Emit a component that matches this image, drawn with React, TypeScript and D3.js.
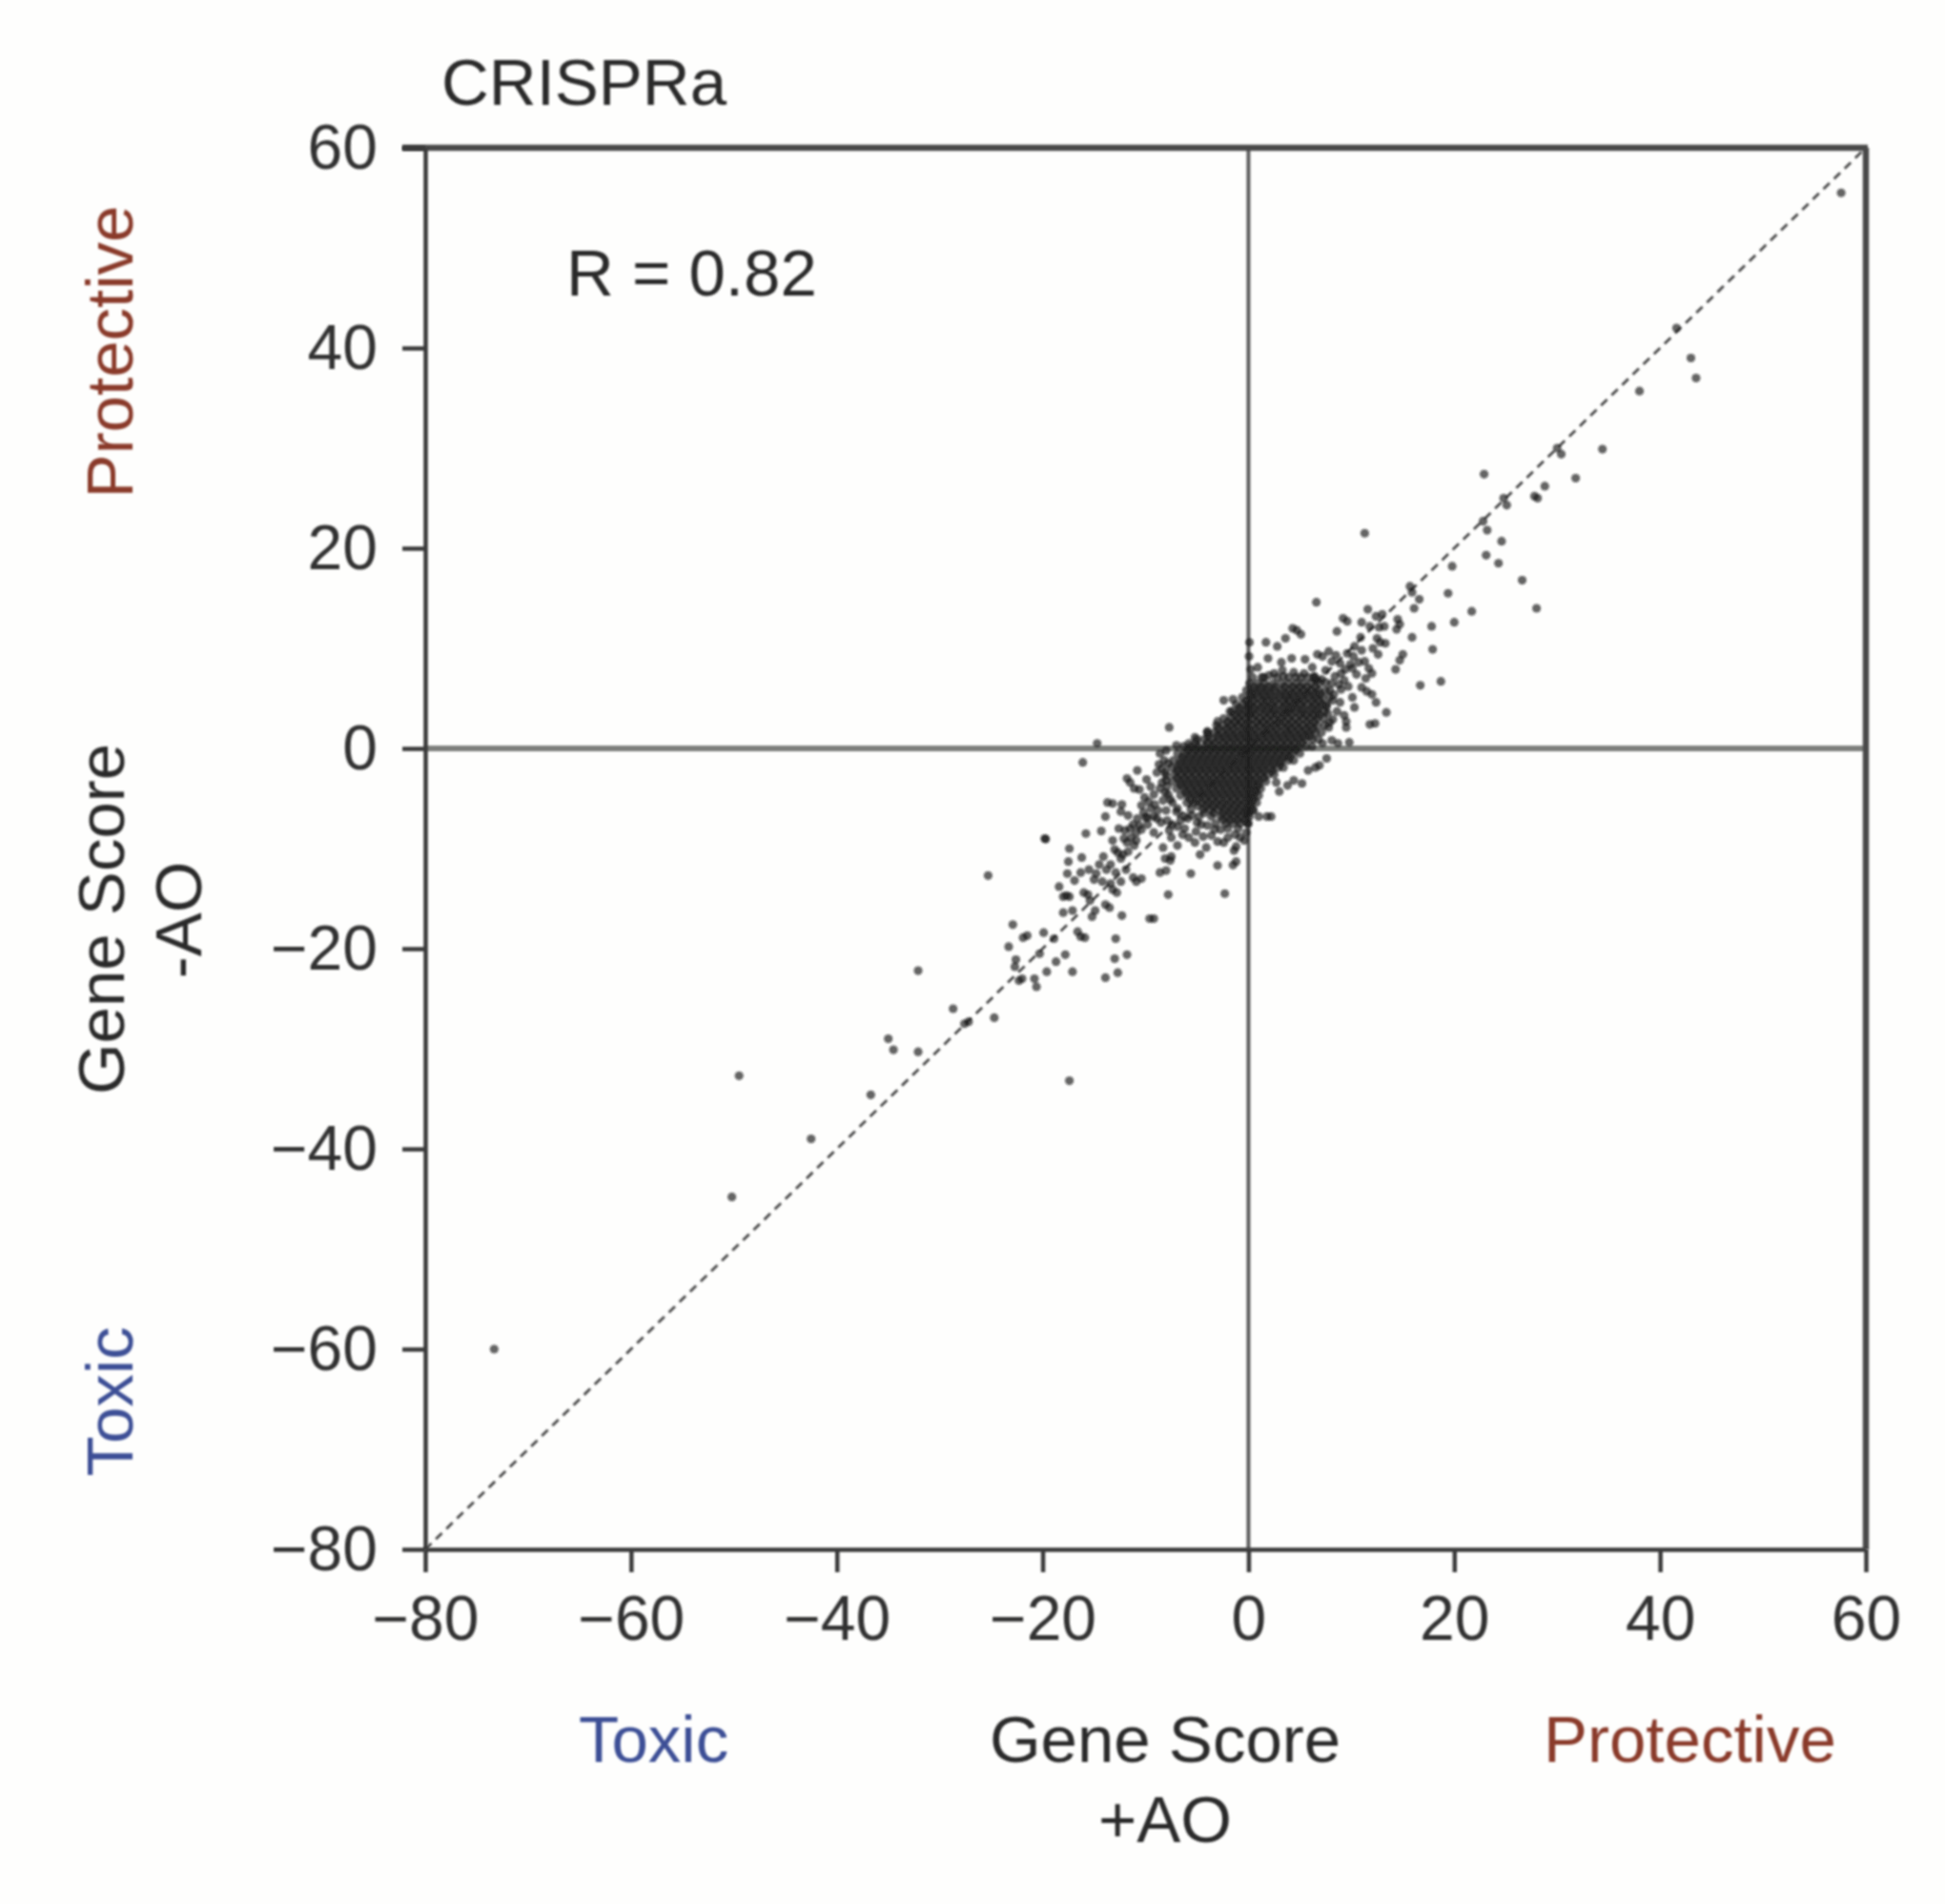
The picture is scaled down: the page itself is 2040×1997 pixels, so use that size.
import { useEffect, useRef } from 'react';
import { select, scaleLinear, axisLeft, axisBottom } from 'd3';

const xTicks = [-80, -60, -40, -20, 0, 20, 40, 60];
const yTicks = [-80, -60, -40, -20, 0, 20, 40, 60];

// single genes far from the main cloud
const farHigh = [
  [57.6, 55.5], [41.6, 42], [43, 39], [43.5, 37], [38, 35.7], [34.4, 29.9], [30.4, 29.4], [30, 30], [31.8, 27],
  [22.9, 27.4], [28.8, 26.2], [27.8, 25.2], [28.1, 25], [25.1, 24.3], [24.8, 25], [22.8, 22.7], [23.2, 21.8],
  [24.6, 20.7], [23.1, 19.3], [24.3, 18.5], [26.6, 16.8], [28, 14], [19.8, 18.2], [11.3, 21.5],
];
const farLow = [
  [-73.3, -60], [-50.2, -44.8], [-49.5, -32.7], [-17.4, -33.2], [-42.5, -39], [-36.7, -34.6], [-35, -29],
  [-34.5, -30.1], [-32.1, -30.3], [-32.1, -22.2], [-28.7, -26], [-27.6, -27.5], [-27.2, -27.3], [-24.7, -26.9],
  [-25.3, -12.7], [-19.8, -9],
];

// upper arm, thinning out towards the diagonal
const armHigh = [
  [19.4, 15.5], [21.7, 13.7], [6.6, 14.6], [15.7, 16.2], [15.9, 15.6], [16.6, 14.9], [16.1, 14],
  [11.6, 13.9], [13, 13.4], [17.8, 12.2], [20, 12.6], [14.5, 12.9], [14.7, 12.4], [14.4, 11.9], [15.9, 11.1],
  [17.9, 9.9], [15, 9.4], [14.7, 8.8], [14.3, 7.9], [16.7, 6.3], [18.7, 6.7], [13.4, 3.6], [11.8, 2.4], [12.3, 2.5],
  [9.5, 2.7], [10.3, 4.1], [12.4, 4.6], [12, 5.4], [11.5, 5.7], [11, 6.1], [12, 7.5], [11.7, 8], [11.3, 8.7],
  [10.9, 11.1], [11.8, 12.2], [12.7, 12.1], [13.3, 10.5], [12.8, 10.6], [12.4, 13.2], [9.9, 8.4], [9, 7.5], [9, 5.9],
  [8.1, 6.5], [7.5, 7.8], [6.2, 8.1], [4.4, 7.6], [2.5, 7.5], [1.3, 7.1], [9.5, 2.1], [9.3, 3.3], [8.7, 0.5],
  [9.8, 0.6], [8.1, 0.8], [9.6, 12.7], [9.2, 13], [8.6, 11.7], [9.6, 9.5], [10.2, 9.2], [8.1, 8.7], [7.8, 9.7],
  [6.7, 9.4], [7.2, 9.2], [5.5, 8.9], [4.2, 9], [3.2, 8.6], [1.9, 9], [1.7, 10.6], [2.8, 10.2], [3.6, 11], [4.3, 12],
  [5.1, 11.4], [4.7, 11.8], [0.1, 10.6], [0.06, 9.2], [0.2, 7.9], [10.5, 7.4], [11, 9.8], [12.1, 10], [12.5, 11],
  [10.3, 10.2], [9.3, 6.8], [10.1, 5.1], [8.9, 4.6], [8.6, 3.7], [7.8, 2.1], [7.2, 0.5], [7.6, -1], [6.5, -1.9],
  [6.9, -1.7], [5.8, -2.2], [5.2, -3.5], [3.8, -3.7], [4.4, -3.2], [3, -4.3], [2.7, -3.4], [1.8, -6.8], [1, -6.8],
  [2.2, -6.8], [-7.7, 2.1], [-5.8, 0.5], [-5.2, 1.1], [-4, 1.7], [-2.4, 4.8], [-1.5, 4.9], [-1.8, 3.7], [-3, 2.7],
  [8.4, 7.2], [8.9, 8.5], [8.3, 5.4], [8.8, 6.4], [9.7, 6.2], [9.4, 7.9], [10.1, 8], [10.7, 8.6], [11.4, 7], [8.5, 9.3],
  [6.4, 7.2], [7.1, 6.9], [5.4, 7.5], [3.3, 7.8], [0.9, 8.1], [12.6, 9.4], [13.2, 12.2], [11, 12.6], [7.6, 4.2], [8.2, 2.9],
  [7.9, 5.8], [8.2, 4.8], [7.7, 3.5], [7.9, 2.6], [7.5, 6.6], [6.5, 6.9], [5.8, 7.1], [2, 7.3], [3.4, 7.2], [4.6, 7.1],
];

// lower arm between about -23 and -8
const armLow = [
  [-19.7, -9.05], [-17.4, -10], [-15.8, -8.5], [-14.3, -8.25], [-16.1, -1.4], [-14.7, 0.5], [-7.8, -14.6], [-2.3, -14.5],
  [-9.6, -17], [-9.2, -17], [-5.6, -12.5], [-4.7, -10.6], [-3, -11.7], [-1.5, -11.65], [-1.2, -11.3], [-22.9, -17.6],
  [-21.9, -18.9], [-21.5, -18.7], [-19.9, -18.4], [-18.9, -19], [-16.6, -18.3], [-15.9, -18.9], [-16.3, -18.8],
  [-12.9, -19], [-13, -21], [-11.8, -20.6], [-12.7, -22.4], [-13.9, -22.9], [-17.1, -22.3], [-19.6, -22.3],
  [-18.7, -21.3], [-17.8, -20.6], [-20.3, -20.5], [-23.3, -19.8], [-22.6, -21.1], [-22.7, -21.8], [-22.3, -23.2],
  [-22, -23], [-20.8, -23], [-20.6, -23.8], [-16.9, -13.2], [-16.3, -12.4], [-15.5, -12.1], [-14.8, -12.5],
  [-14.2, -13.3], [-13.4, -13.5], [-14.1, -10.8], [-13.4, -11.6], [-12.4, -11], [-11.8, -9.4], [-11.1, -9.7],
  [-10.4, -8.1], [-9.8, -7.6], [-8.9, -7], [-11.7, -10.3], [-12.9, -12.4], [-16.2, -10.9], [-17.5, -11.3],
  [-17.6, -12.5], [-18.4, -13.8], [-18, -14.8], [-17.4, -14.8], [-17.7, -14.7], [-18, -16.4], [-17.1, -16.2],
  [-16, -14.4], [-15.4, -15.2], [-14.9, -16.2], [-15.2, -16.8], [-13.5, -15.9], [-13.9, -15.6], [-12.3, -16.7],
  [-12.8, -14.4], [-13.2, -14.1], [-15.6, -14.6], [-11.2, -12.9], [-10.4, -13], [-10.9, -13.3], [-8.6, -12.4],
  [-8, -12.2], [-8.3, -9.9], [-7.5, -10.8], [-8.1, -11], [-7.6, -11.2], [-12.3, -5.6], [-13.7, -5.4], [-13.2, -5.5],
  [-13.9, -6.8], [-12.4, -6.3], [-11.8, -3], [-11.5, -3.4], [-10.8, -2.2], [-11.1, -4], [-10.6, -4.1], [-10.4, -5.7],
  [-11.2, -7.6], [-9.2, -6.8], [-13.2, -9.2], [-12.1, -9], [-11.4, -8.9], [-10.8, -7], [-9.5, -6], [-8.3, -5.2],
  [-8.6, -4], [-8, -6.2], [-6.9, -7.8], [-5.8, -8.9], [-6.4, -8.6], [-5.2, -9.4], [-3.6, -8.7], [-2.4, -9.4],
  [-1.2, -9.8], [-1.3, -8.6], [-2.7, -8.1], [-4.6, -7.6], [-7, -6.3], [-5.5, -6.7], [-8, -2.7], [-8.6, -0.5], [-8, -0.2],
  [-7, 0.3], [-8.9, -2.4], [-9.2, -4.6], [-9.9, -3.1], [-10, -6.9], [-12.6, -8], [-11.7, -6.7], [-9.2, -8.4],
  [-7.5, -8.9], [-6.9, -9.7], [-4.1, -9.9], [-1.4, -10.2], [-0.4, -9.2], [-0.2, -8.4], [0.5, -6.2],
  [-12, -8.2], [-11.5, -8], [-10.9, -8.4], [-10.6, -7.7], [-10.2, -6.4], [-9.8, -6.9], [-9.1, -5.6], [-8.8, -6.2],
  [-8.5, -7.4], [-7.9, -7.2], [-7.4, -7.6], [-7.6, -5.1], [-8.1, -4.4], [-8.4, -3.4], [-8.7, -1.6], [-9.5, -3.8],
  [-10.1, -4.9], [-9.7, -5.3], [-10.9, -9.2], [-12.7, -10.4], [-13, -10.1], [-12.2, -10.6], [-13.8, -12.1],
  [-14.5, -11.6], [-15, -13.1], [-12.4, -13.3], [-11.9, -12.1], [-6.2, -8], [-5.1, -8.3], [-4.4, -8.8], [-3, -9.3],
  [-2, -8.9], [-0.8, -8.9], [-7.7, -8.2], [-6.6, -7.2],
  [-8.2, -1.2], [-8.4, -2], [-7.9, -3.8], [-8.1, -2.4], [-7.8, -4.6], [-7.4, -5.4], [-6.9, -6], [-7.8, -1.5], [-8, -3.2],
  [-5.9, -7], [-5, -7.4], [-4, -7.7], [-3.3, -8.1], [-2, -8], [-1, -8], [0, -7.5],
];

// dense centre of the cloud, [y, x values]
const cloudRows: [number, number[]][] = [
  [7.1, [0.4, 1.5, 2.8, 3.9, 5.1, 6.4]],
  [6.5, [0.1, 0.9, 1.6, 2.4, 3.2, 3.9, 4.6, 5.3, 6.1, 6.9]],
  [5.8, [-0.2, 0.5, 1.2, 1.9, 2.6, 3.3, 4, 4.7, 5.4, 6.1, 6.8, 7.5]],
  [5.1, [-0.6, 0.2, 0.9, 1.6, 2.3, 3, 3.7, 4.4, 5.1, 5.8, 6.5, 7.2, 7.9]],
  [4.4, [-1.2, -0.5, 0.1, 0.8, 1.5, 2.2, 2.9, 3.6, 4.3, 5, 5.7, 6.4, 7.1, 7.6]],
  [3.7, [-1.6, -0.9, -0.2, 0.4, 1.1, 1.8, 2.5, 3.2, 3.9, 4.6, 5.3, 6, 6.7, 7.4]],
  [3, [-2.4, -1.7, -1, -0.3, 0.4, 1.1, 1.8, 2.5, 3.2, 3.9, 4.6, 5.3, 6, 6.7, 7.3]],
  [2.3, [-3.1, -2.4, -1.7, -1, -0.3, 0.4, 1.1, 1.8, 2.5, 3.2, 3.9, 4.6, 5.3, 6, 6.7, 7.4]],
  [1.6, [-4, -3.3, -2.6, -1.9, -1.2, -0.5, 0.2, 0.9, 1.6, 2.3, 3, 3.7, 4.4, 5.1, 5.8, 6.5, 7.1]],
  [0.9, [-5, -4.3, -3.6, -2.9, -2.2, -1.5, -0.8, -0.1, 0.6, 1.3, 2, 2.7, 3.4, 4.1, 4.8, 5.5, 6.2, 6.8]],
  [0.2, [-6.3, -5.6, -4.9, -4.2, -3.5, -2.8, -2.1, -1.4, -0.7, 0, 0.7, 1.4, 2.1, 2.8, 3.5, 4.2, 4.9, 5.6, 6.2]],
  [-0.5, [-6.9, -6.2, -5.5, -4.8, -4.1, -3.4, -2.7, -2, -1.3, -0.6, 0.1, 0.8, 1.5, 2.2, 2.9, 3.6, 4.3, 5]],
  [-1.2, [-7.3, -6.6, -5.9, -5.2, -4.5, -3.8, -3.1, -2.4, -1.7, -1, -0.3, 0.4, 1.1, 1.8, 2.5, 3.2, 3.9, 4.4]],
  [-1.9, [-7.5, -6.9, -6.2, -5.5, -4.8, -4.1, -3.4, -2.7, -2, -1.3, -0.6, 0.1, 0.8, 1.5, 2.2, 2.9, 3.4]],
  [-2.6, [-7.2, -6.5, -5.8, -5.1, -4.4, -3.7, -3, -2.3, -1.6, -0.9, -0.2, 0.5, 1.2, 1.9, 2.5]],
  [-3.3, [-7.4, -6.7, -6, -5.3, -4.6, -3.9, -3.2, -2.5, -1.8, -1.1, -0.4, 0.3, 1, 1.7]],
  [-4, [-7, -6.3, -5.6, -4.9, -4.2, -3.5, -2.8, -2.1, -1.4, -0.7, 0, 0.7, 1.2]],
  [-4.7, [-6.6, -5.9, -5.2, -4.5, -3.8, -3.1, -2.4, -1.7, -1, -0.3, 0.4, 1]],
  [-5.4, [-6, -5.3, -4.6, -3.9, -3.2, -2.5, -1.8, -1.1, -0.4, 0.3, 0.8]],
  [-6.1, [-5.6, -4.4, -3.7, -3, -2.3, -1.6, -0.9, -0.2, 0.4]],
  [-6.8, [-6.2, -4.8, -3.6, -2.7, -2, -1.3, -0.6, 0.1]],
  [-7.5, [-3.2, -2.2, -1.5, -0.8, -0.1]],
];

// same area again, offset, where the points pile up to solid black
const cloudFillRows: [number, number[]][] = [
  [6.15, [0.5, 1.2, 1.9, 2.6, 3.5, 4.3, 5, 5.7, 6.5]],
  [5.45, [0.2, 0.8, 1.5, 2.2, 3, 3.7, 4.3, 5, 5.7, 6.4, 7]],
  [4.75, [-0.2, 0.5, 1.3, 1.9, 2.6, 3.4, 4, 4.7, 5.4, 6.2, 6.9]],
  [4.05, [-0.9, -0.1, 0.5, 1.2, 1.9, 2.5, 3.3, 4, 4.6, 5.3, 6.1, 6.8]],
  [3.35, [-1.3, -0.6, 0.1, 0.7, 1.5, 2.2, 2.8, 3.5, 4.2, 5, 5.6, 6.3, 6.9]],
  [2.65, [-2, -1.3, -0.7, 0, 0.8, 1.4, 2.1, 2.9, 3.5, 4.2, 4.9, 5.7, 6.4]],
  [1.95, [-2.9, -2.1, -1.4, -0.6, 0, 0.7, 1.5, 2.1, 2.8, 3.6, 4.2, 4.9, 5.6, 6.3]],
  [1.25, [-3.9, -3, -2.3, -1.6, -0.9, -0.2, 0.5, 1.2, 1.9, 2.6, 3.3, 4, 4.7, 5.4, 6]],
  [0.55, [-5.1, -4, -3.3, -2.5, -1.8, -1.1, -0.4, 0.3, 1, 1.7, 2.4, 3.1, 3.8, 4.5, 5.2]],
  [-0.15, [-5.9, -5.2, -4.5, -3.8, -3.1, -2.4, -1.7, -1, -0.3, 0.4, 1.1, 1.8, 2.5, 3.2, 3.9, 4.6]],
  [-0.85, [-6.4, -5.7, -5, -4.3, -3.6, -2.9, -2.2, -1.5, -0.8, -0.1, 0.6, 1.3, 2, 2.7, 3.4, 4]],
  [-1.55, [-6.7, -6, -5.3, -4.6, -3.9, -3.2, -2.5, -1.8, -1.1, -0.4, 0.3, 1, 1.7, 2.4, 3.1]],
  [-2.25, [-6.9, -6.2, -5.5, -4.8, -4.1, -3.4, -2.7, -2, -1.3, -0.6, 0.1, 0.8, 1.5, 2.3]],
  [-2.95, [-6.9, -6.2, -5.5, -4.8, -4.1, -3.4, -2.7, -2, -1.3, -0.6, 0.1, 0.8, 1.5]],
  [-3.65, [-6.6, -5.9, -5.2, -4.5, -3.8, -3.1, -2.4, -1.7, -1, -0.3, 0.4, 1]],
  [-4.35, [-6.1, -5.4, -4.7, -4, -3.3, -2.6, -1.9, -1.2, -0.5, 0.2, 0.7]],
  [-5.05, [-5.7, -5, -4.3, -3.6, -2.9, -2.2, -1.5, -0.8, -0.1, 0.5]],
  [-5.75, [-4.9, -4.1, -3.4, -2.7, -2, -1.3, -0.6, 0.1]],
  [-6.45, [-4.3, -3.4, -2.5, -1.8, -1.1, -0.4, 0]],
  [-7.15, [-2.5, -1.8, -1.1, -0.4]],
];

const rowPoints = (rows: [number, number[]][]) => rows.flatMap(([y, xs]) => xs.map((x) => [x, y]));

const points = [
  ...farHigh,
  ...farLow,
  ...armHigh,
  ...armLow,
  ...rowPoints(cloudRows),
  ...rowPoints(cloudFillRows),
];

const FONT = '"Liberation Sans", Arial, sans-serif';
const INK = '#2b2b2b';
const BLUE = '#3d5096';
const RED = '#8a3b2c';

const render = (node: SVGSVGElement) => {
  const svg = select(node);
  svg.selectAll('*').remove();

  const defs = svg.append('defs');
  defs
    .append('filter')
    .attr('id', 'soft')
    .attr('x', '-5%')
    .attr('y', '-5%')
    .attr('width', '110%')
    .attr('height', '110%')
    .append('feGaussianBlur')
    .attr('stdDeviation', 1.1);

  const xScale = scaleLinear().domain([-80, 60]).range([446, 1957]);
  const yScale = scaleLinear().domain([-80, 60]).range([1625, 155]);

  const chart = svg.append('g').attr('filter', 'url(#soft)');

  // zero lines
  chart
    .append('line')
    .attr('x1', xScale(-80))
    .attr('x2', xScale(60))
    .attr('y1', yScale(0))
    .attr('y2', yScale(0))
    .attr('stroke', '#7d7f7c')
    .attr('stroke-width', 6);
  chart
    .append('line')
    .attr('x1', xScale(0))
    .attr('x2', xScale(0))
    .attr('y1', yScale(-80))
    .attr('y2', yScale(60))
    .attr('stroke', '#5c5c5c')
    .attr('stroke-width', 4);

  // identity line
  chart
    .append('line')
    .attr('x1', xScale(-80))
    .attr('y1', yScale(-80))
    .attr('x2', xScale(60))
    .attr('y2', yScale(60))
    .attr('stroke', '#4a4a4a')
    .attr('stroke-width', 2.8)
    .attr('stroke-dasharray', '9 6.5');

  chart
    .append('g')
    .selectAll('circle')
    .data(points)
    .enter()
    .append('circle')
    .attr('cx', (d) => xScale(d[0]))
    .attr('cy', (d) => yScale(d[1]))
    .attr('r', 4.6)
    .attr('fill', '#1a1a1a')
    .attr('fill-opacity', 0.68);

  // frame, top and right are heavier than the axes
  chart
    .append('line')
    .attr('x1', xScale(-80) - 24)
    .attr('x2', xScale(60) + 2)
    .attr('y1', yScale(60))
    .attr('y2', yScale(60))
    .attr('stroke', '#4a4a4a')
    .attr('stroke-width', 6.5);
  chart
    .append('line')
    .attr('x1', xScale(60))
    .attr('x2', xScale(60))
    .attr('y1', yScale(60))
    .attr('y2', yScale(-80))
    .attr('stroke', '#4a4a4a')
    .attr('stroke-width', 6.5);

  const yAxis = svg
    .append('g')
    .attr('filter', 'url(#soft)')
    .attr('transform', `translate(${xScale(-80)},0)`)
    .call(axisLeft(yScale).tickValues(yTicks).tickSize(24).tickPadding(26).tickSizeOuter(0));
  const xAxis = svg
    .append('g')
    .attr('filter', 'url(#soft)')
    .attr('transform', `translate(0,${yScale(-80)})`)
    .call(axisBottom(xScale).tickValues(xTicks).tickSize(24).tickPadding(24).tickSizeOuter(0));

  [xAxis, yAxis].forEach((axis) => {
    axis.selectAll('.domain').attr('stroke', '#3a3a3a').attr('stroke-width', 4.5);
    axis.selectAll('.tick line').attr('stroke', '#3a3a3a').attr('stroke-width', 4.5);
    axis
      .selectAll('.tick text')
      .attr('fill', '#333333')
      .attr('font-family', FONT)
      .attr('font-size', 66);
  });

  // labels
  const label = (text: string, x: number, y: number, color: string, anchor = 'start', rotate = false) =>
    svg
      .append('text')
      .attr('transform', `translate(${x},${y})${rotate ? ' rotate(-90)' : ''}`)
      .attr('text-anchor', anchor)
      .attr('font-family', FONT)
      .attr('font-size', 69)
      .attr('fill', color)
      .attr('filter', 'url(#soft)')
      .text(text);

  label('CRISPRa', 463, 110, INK);
  label('R = 0.82', 594, 310, INK);
  label('Toxic', 607, 1848, BLUE);
  label('Gene Score', 1222, 1848, INK, 'middle');
  label('+AO', 1222, 1932, INK, 'middle');
  label('Protective', 1619, 1848, RED);
  label('Protective', 139, 369, RED, 'middle', true);
  label('Gene Score', 130, 964, INK, 'middle', true);
  label('-AO', 211, 965, INK, 'middle', true);
  label('Toxic', 139, 1470, BLUE, 'middle', true);
};

export default function App() {
  const chartRef = useRef<SVGSVGElement>(null);

  useEffect(() => {
    if (chartRef.current) render(chartRef.current);
  }, []);

  return (
    <svg
      ref={chartRef}
      width={2040}
      height={1997}
      style={{ position: 'absolute', left: 0, top: 0, background: '#fefefd' }}
    />
  );
}
